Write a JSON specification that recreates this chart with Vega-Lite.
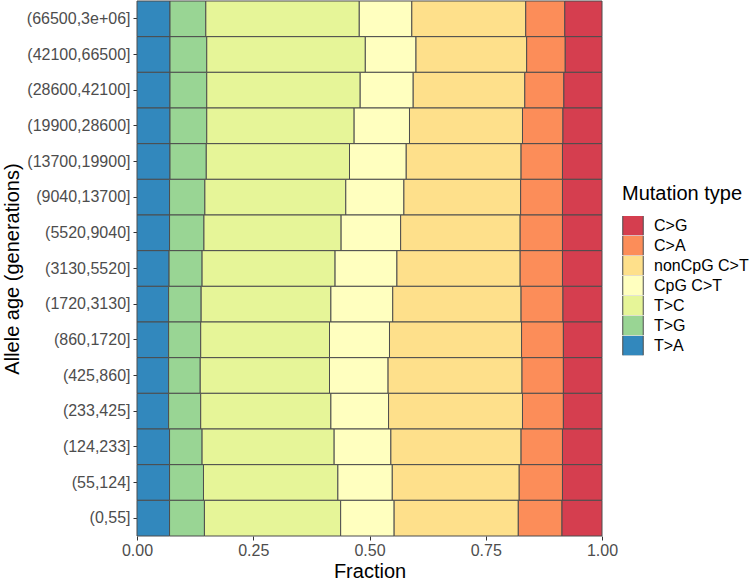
{
  "$schema": "https://vega.github.io/schema/vega-lite/v6.json",
  "width": 465,
  "height": 535,
  "autosize": {"type": "none"},
  "padding": {"left": 137, "top": 1, "right": 150, "bottom": 44},
  "background": "white",
  "config": {
    "view": {"stroke": null},
    "font": "Liberation Sans",
    "axis": {"grid": false, "domain": false, "labelFont": "Liberation Sans", "titleFont": "Liberation Sans", "labelColor": "#4D4D4D", "labelFontSize": 16, "titleFontSize": 20, "titleFontWeight": "normal", "titleColor": "black", "tickColor": "#333333", "tickSize": 4, "tickWidth": 1}
  },
  "data": {"values": [
    {"age": "(66500,3e+06]", "type": "T>A", "ord": 1, "frac": 0.071},
    {"age": "(66500,3e+06]", "type": "T>G", "ord": 2, "frac": 0.077},
    {"age": "(66500,3e+06]", "type": "T>C", "ord": 3, "frac": 0.330},
    {"age": "(66500,3e+06]", "type": "CpG C>T", "ord": 4, "frac": 0.113},
    {"age": "(66500,3e+06]", "type": "nonCpG C>T", "ord": 5, "frac": 0.245},
    {"age": "(66500,3e+06]", "type": "C>A", "ord": 6, "frac": 0.084},
    {"age": "(66500,3e+06]", "type": "C>G", "ord": 7, "frac": 0.080},
    {"age": "(42100,66500]", "type": "T>A", "ord": 1, "frac": 0.071},
    {"age": "(42100,66500]", "type": "T>G", "ord": 2, "frac": 0.079},
    {"age": "(42100,66500]", "type": "T>C", "ord": 3, "frac": 0.341},
    {"age": "(42100,66500]", "type": "CpG C>T", "ord": 4, "frac": 0.109},
    {"age": "(42100,66500]", "type": "nonCpG C>T", "ord": 5, "frac": 0.238},
    {"age": "(42100,66500]", "type": "C>A", "ord": 6, "frac": 0.083},
    {"age": "(42100,66500]", "type": "C>G", "ord": 7, "frac": 0.079},
    {"age": "(28600,42100]", "type": "T>A", "ord": 1, "frac": 0.071},
    {"age": "(28600,42100]", "type": "T>G", "ord": 2, "frac": 0.079},
    {"age": "(28600,42100]", "type": "T>C", "ord": 3, "frac": 0.330},
    {"age": "(28600,42100]", "type": "CpG C>T", "ord": 4, "frac": 0.114},
    {"age": "(28600,42100]", "type": "nonCpG C>T", "ord": 5, "frac": 0.240},
    {"age": "(28600,42100]", "type": "C>A", "ord": 6, "frac": 0.084},
    {"age": "(28600,42100]", "type": "C>G", "ord": 7, "frac": 0.082},
    {"age": "(19900,28600]", "type": "T>A", "ord": 1, "frac": 0.071},
    {"age": "(19900,28600]", "type": "T>G", "ord": 2, "frac": 0.079},
    {"age": "(19900,28600]", "type": "T>C", "ord": 3, "frac": 0.317},
    {"age": "(19900,28600]", "type": "CpG C>T", "ord": 4, "frac": 0.119},
    {"age": "(19900,28600]", "type": "nonCpG C>T", "ord": 5, "frac": 0.243},
    {"age": "(19900,28600]", "type": "C>A", "ord": 6, "frac": 0.087},
    {"age": "(19900,28600]", "type": "C>G", "ord": 7, "frac": 0.084},
    {"age": "(13700,19900]", "type": "T>A", "ord": 1, "frac": 0.071},
    {"age": "(13700,19900]", "type": "T>G", "ord": 2, "frac": 0.078},
    {"age": "(13700,19900]", "type": "T>C", "ord": 3, "frac": 0.308},
    {"age": "(13700,19900]", "type": "CpG C>T", "ord": 4, "frac": 0.122},
    {"age": "(13700,19900]", "type": "nonCpG C>T", "ord": 5, "frac": 0.247},
    {"age": "(13700,19900]", "type": "C>A", "ord": 6, "frac": 0.089},
    {"age": "(13700,19900]", "type": "C>G", "ord": 7, "frac": 0.085},
    {"age": "(9040,13700]", "type": "T>A", "ord": 1, "frac": 0.070},
    {"age": "(9040,13700]", "type": "T>G", "ord": 2, "frac": 0.076},
    {"age": "(9040,13700]", "type": "T>C", "ord": 3, "frac": 0.303},
    {"age": "(9040,13700]", "type": "CpG C>T", "ord": 4, "frac": 0.125},
    {"age": "(9040,13700]", "type": "nonCpG C>T", "ord": 5, "frac": 0.251},
    {"age": "(9040,13700]", "type": "C>A", "ord": 6, "frac": 0.090},
    {"age": "(9040,13700]", "type": "C>G", "ord": 7, "frac": 0.085},
    {"age": "(5520,9040]", "type": "T>A", "ord": 1, "frac": 0.070},
    {"age": "(5520,9040]", "type": "T>G", "ord": 2, "frac": 0.074},
    {"age": "(5520,9040]", "type": "T>C", "ord": 3, "frac": 0.295},
    {"age": "(5520,9040]", "type": "CpG C>T", "ord": 4, "frac": 0.128},
    {"age": "(5520,9040]", "type": "nonCpG C>T", "ord": 5, "frac": 0.257},
    {"age": "(5520,9040]", "type": "C>A", "ord": 6, "frac": 0.091},
    {"age": "(5520,9040]", "type": "C>G", "ord": 7, "frac": 0.085},
    {"age": "(3130,5520]", "type": "T>A", "ord": 1, "frac": 0.069},
    {"age": "(3130,5520]", "type": "T>G", "ord": 2, "frac": 0.071},
    {"age": "(3130,5520]", "type": "T>C", "ord": 3, "frac": 0.286},
    {"age": "(3130,5520]", "type": "CpG C>T", "ord": 4, "frac": 0.133},
    {"age": "(3130,5520]", "type": "nonCpG C>T", "ord": 5, "frac": 0.265},
    {"age": "(3130,5520]", "type": "C>A", "ord": 6, "frac": 0.091},
    {"age": "(3130,5520]", "type": "C>G", "ord": 7, "frac": 0.085},
    {"age": "(1720,3130]", "type": "T>A", "ord": 1, "frac": 0.068},
    {"age": "(1720,3130]", "type": "T>G", "ord": 2, "frac": 0.070},
    {"age": "(1720,3130]", "type": "T>C", "ord": 3, "frac": 0.279},
    {"age": "(1720,3130]", "type": "CpG C>T", "ord": 4, "frac": 0.133},
    {"age": "(1720,3130]", "type": "nonCpG C>T", "ord": 5, "frac": 0.276},
    {"age": "(1720,3130]", "type": "C>A", "ord": 6, "frac": 0.090},
    {"age": "(1720,3130]", "type": "C>G", "ord": 7, "frac": 0.084},
    {"age": "(860,1720]", "type": "T>A", "ord": 1, "frac": 0.068},
    {"age": "(860,1720]", "type": "T>G", "ord": 2, "frac": 0.069},
    {"age": "(860,1720]", "type": "T>C", "ord": 3, "frac": 0.277},
    {"age": "(860,1720]", "type": "CpG C>T", "ord": 4, "frac": 0.129},
    {"age": "(860,1720]", "type": "nonCpG C>T", "ord": 5, "frac": 0.284},
    {"age": "(860,1720]", "type": "C>A", "ord": 6, "frac": 0.090},
    {"age": "(860,1720]", "type": "C>G", "ord": 7, "frac": 0.083},
    {"age": "(425,860]", "type": "T>A", "ord": 1, "frac": 0.068},
    {"age": "(425,860]", "type": "T>G", "ord": 2, "frac": 0.068},
    {"age": "(425,860]", "type": "T>C", "ord": 3, "frac": 0.278},
    {"age": "(425,860]", "type": "CpG C>T", "ord": 4, "frac": 0.126},
    {"age": "(425,860]", "type": "nonCpG C>T", "ord": 5, "frac": 0.288},
    {"age": "(425,860]", "type": "C>A", "ord": 6, "frac": 0.089},
    {"age": "(425,860]", "type": "C>G", "ord": 7, "frac": 0.083},
    {"age": "(233,425]", "type": "T>A", "ord": 1, "frac": 0.068},
    {"age": "(233,425]", "type": "T>G", "ord": 2, "frac": 0.069},
    {"age": "(233,425]", "type": "T>C", "ord": 3, "frac": 0.280},
    {"age": "(233,425]", "type": "CpG C>T", "ord": 4, "frac": 0.124},
    {"age": "(233,425]", "type": "nonCpG C>T", "ord": 5, "frac": 0.288},
    {"age": "(233,425]", "type": "C>A", "ord": 6, "frac": 0.088},
    {"age": "(233,425]", "type": "C>G", "ord": 7, "frac": 0.083},
    {"age": "(124,233]", "type": "T>A", "ord": 1, "frac": 0.070},
    {"age": "(124,233]", "type": "T>G", "ord": 2, "frac": 0.070},
    {"age": "(124,233]", "type": "T>C", "ord": 3, "frac": 0.284},
    {"age": "(124,233]", "type": "CpG C>T", "ord": 4, "frac": 0.122},
    {"age": "(124,233]", "type": "nonCpG C>T", "ord": 5, "frac": 0.280},
    {"age": "(124,233]", "type": "C>A", "ord": 6, "frac": 0.089},
    {"age": "(124,233]", "type": "C>G", "ord": 7, "frac": 0.085},
    {"age": "(55,124]", "type": "T>A", "ord": 1, "frac": 0.070},
    {"age": "(55,124]", "type": "T>G", "ord": 2, "frac": 0.073},
    {"age": "(55,124]", "type": "T>C", "ord": 3, "frac": 0.289},
    {"age": "(55,124]", "type": "CpG C>T", "ord": 4, "frac": 0.117},
    {"age": "(55,124]", "type": "nonCpG C>T", "ord": 5, "frac": 0.273},
    {"age": "(55,124]", "type": "C>A", "ord": 6, "frac": 0.093},
    {"age": "(55,124]", "type": "C>G", "ord": 7, "frac": 0.085},
    {"age": "(0,55]", "type": "T>A", "ord": 1, "frac": 0.070},
    {"age": "(0,55]", "type": "T>G", "ord": 2, "frac": 0.075},
    {"age": "(0,55]", "type": "T>C", "ord": 3, "frac": 0.293},
    {"age": "(0,55]", "type": "CpG C>T", "ord": 4, "frac": 0.115},
    {"age": "(0,55]", "type": "nonCpG C>T", "ord": 5, "frac": 0.267},
    {"age": "(0,55]", "type": "C>A", "ord": 6, "frac": 0.094},
    {"age": "(0,55]", "type": "C>G", "ord": 7, "frac": 0.086}
  ]},
  "mark": {"type": "bar", "stroke": "#4D4D4D", "strokeWidth": 1},
  "encoding": {
    "y": {
      "field": "age", "type": "nominal",
      "sort": ["(66500,3e+06]", "(42100,66500]", "(28600,42100]", "(19900,28600]", "(13700,19900]", "(9040,13700]", "(5520,9040]", "(3130,5520]", "(1720,3130]", "(860,1720]", "(425,860]", "(233,425]", "(124,233]", "(55,124]", "(0,55]"],
      "scale": {"paddingInner": 0, "paddingOuter": 0},
      "axis": {"title": "Allele age (generations)", "labelPadding": 3, "titlePadding": 4}
    },
    "x": {
      "field": "frac", "type": "quantitative", "stack": "zero",
      "scale": {"domain": [0, 1], "nice": false, "zero": true},
      "axis": {"title": "Fraction", "values": [0, 0.25, 0.5, 0.75, 1], "format": ".2f", "labelPadding": 2, "titlePadding": 3, "labelFlush": false}
    },
    "order": {"field": "ord", "type": "quantitative"},
    "color": {
      "field": "type", "type": "nominal",
      "scale": {
        "domain": ["C>G", "C>A", "nonCpG C>T", "CpG C>T", "T>C", "T>G", "T>A"],
        "range": ["#D53E4F", "#FC8D59", "#FEE08B", "#FFFFBF", "#E6F598", "#99D594", "#3288BD"]
      },
      "legend": {
        "title": "Mutation type", "orient": "none", "legendX": 485, "legendY": 183,
        "titleFontSize": 20, "titleFontWeight": "normal", "titleColor": "black", "titleFont": "Liberation Sans", "titlePadding": 12,
        "labelFontSize": 16, "labelColor": "black", "labelFont": "Liberation Sans", "labelOffset": 10,
        "symbolType": "square", "symbolSize": 420, "symbolStrokeColor": "#4D4D4D", "symbolStrokeWidth": 1, "symbolOpacity": 1,
        "rowPadding": 0, "clipHeight": 19.3
      }
    }
  }
}
